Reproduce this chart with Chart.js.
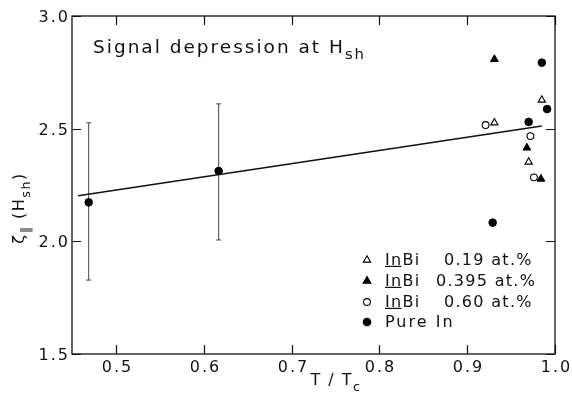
<!DOCTYPE html>
<html>
<head>
<meta charset="utf-8">
<script src="https://cdn.jsdelivr.net/npm/chart.js@4/dist/chart.umd.min.js"></script>
<style>
html,body{margin:0;padding:0;background:#fff;}
#wrap{width:572px;height:396px;position:relative;}
</style>
</head>
<body>
<div id="wrap"><canvas id="c" width="572" height="396"></canvas></div>
<script>
// ---- data ----
const xTicks = [0.5, 0.6, 0.7, 0.8, 0.9, 1.0];
const yTicks = [1.5, 2.0, 2.5, 3.0];

const inBi019X = [0.931, 0.985, 0.970];
const inBi019Y = [2.526, 2.627, 2.352];
const inBi0395X = [0.931, 0.968, 0.984];
const inBi0395Y = [2.808, 2.415, 2.277];
const inBi060X = [0.921, 0.972, 0.976];
const inBi060Y = [2.516, 2.467, 2.284];
const pureInX = [0.469, 0.617, 0.929, 0.970, 0.985, 0.991];
const pureInY = [2.173, 2.312, 2.083, 2.530, 2.793, 2.587];

const errX = [0.469, 0.617];
const errLow = [1.828, 2.006];
const errHigh = [2.526, 2.610];

const fitX = [0.457, 0.985];
const fitY = [2.202, 2.512];

const legendNames = ["InBi", "InBi", "InBi", "Pure In"];
const legendConc = ["0.19 at.%", "0.395 at.%", "0.60 at.%", ""];

const pts = (xs, ys) => xs.map((x, i) => ({x: x, y: ys[i]}));

const FONT = "'DejaVu Sans', sans-serif";

const datasets = [];
datasets.push({type:'line', data: pts(fitX, fitY), borderColor:'#111', borderWidth:1.6, pointRadius:0, fill:false, order:5});
errX.forEach((x, i) => {
  datasets.push({type:'line', data:[{x:x,y:errLow[i]},{x:x,y:errHigh[i]}], borderColor:'#444', borderWidth:1,
    pointStyle:'line', pointRadius:2.5, pointBorderColor:'#444', pointBorderWidth:1, fill:false, order:6});
});
datasets.push({label:'InBi 0.19', data: pts(inBi019X, inBi019Y), pointStyle:'triangle', pointRadius:4.2,
  backgroundColor:'#fff', borderColor:'#000', borderWidth:1.1, order:1});
datasets.push({label:'InBi 0.395', data: pts(inBi0395X, inBi0395Y), pointStyle:'triangle', pointRadius:4.5,
  backgroundColor:'#000', borderColor:'#000', borderWidth:1, order:1});
datasets.push({label:'InBi 0.60', data: pts(inBi060X, inBi060Y), pointStyle:'circle', pointRadius:3.4,
  backgroundColor:'#fff', borderColor:'#000', borderWidth:1.1, order:1});
datasets.push({label:'Pure In', data: pts(pureInX, pureInY), pointStyle:'circle', pointRadius:3.8,
  backgroundColor:'#000', borderColor:'#000', borderWidth:1, order:1});

function drawRich(ctx, parts, x, y, align, size) {
  ctx.font = size + "px " + FONT;
  let total = 0;
  const widths = parts.map(p => {
    ctx.font = (p.sub ? size * 0.8 : size) + "px " + FONT;
    const w = ctx.measureText(p.t).width;
    total += w;
    return w;
  });
  let cx = align === 'center' ? x - total / 2 : (align === 'right' ? x - total : x);
  parts.forEach((p, i) => {
    ctx.font = (p.sub ? size * 0.8 : size) + "px " + FONT;
    ctx.textAlign = 'left';
    ctx.fillText(p.t, cx, p.sub ? y + size * 0.35 : y);
    if (p.underline) {
      const uw = ctx.measureText(p.underline).width;
      ctx.fillRect(cx, y + size * 0.3, uw - 1, 1.2);
    }
    cx += widths[i];
  });
}

const framePlugin = {
  id: 'frame',
  afterDraw(chart) {
    const ctx = chart.ctx;
    const a = chart.chartArea;
    const xs = chart.scales.x, ys = chart.scales.y;
    ctx.save();
    ctx.strokeStyle = '#111';
    ctx.fillStyle = '#111';
    ctx.lineWidth = 1.3;
    ctx.strokeRect(a.left, a.top, a.right - a.left, a.bottom - a.top);
    ctx.lineWidth = 1.2;
    const tl = 9;
    ctx.textBaseline = 'middle';
    ctx.letterSpacing = '2px';
    ctx.font = "16px " + FONT;
    xTicks.forEach(v => {
      const px = Math.round(xs.getPixelForValue(v)) + 0.5;
      ctx.beginPath();
      ctx.moveTo(px, a.bottom); ctx.lineTo(px, a.bottom - tl);
      ctx.moveTo(px, a.top); ctx.lineTo(px, a.top + tl);
      ctx.stroke();
      ctx.textAlign = 'center';
      ctx.fillText(v.toFixed(1), px + 1, a.bottom + 14);
    });
    yTicks.forEach(v => {
      const py = Math.round(ys.getPixelForValue(v)) + 0.5;
      ctx.beginPath();
      ctx.moveTo(a.left, py); ctx.lineTo(a.left + tl, py);
      ctx.moveTo(a.right, py); ctx.lineTo(a.right - tl, py);
      ctx.stroke();
      ctx.textAlign = 'right';
      ctx.fillText(v.toFixed(1), a.left - 2, py + 1);
    });

    // title inside plot
    ctx.textBaseline = 'alphabetic';
    ctx.letterSpacing = '2px';
    drawRich(ctx, [{t:'Signal depression at H'},{t:'sh', sub:true}], 93, 53, 'left', 18.5);

    // axis titles
    ctx.letterSpacing = '1.5px';
    drawRich(ctx, [{t:'T / T'},{t:'c', sub:true}], 336, 385, 'center', 16);
    ctx.save();
    ctx.translate(24, 208);
    ctx.rotate(-Math.PI / 2);
    drawRich(ctx, [{t:'\u03B6'},{t:'\u2225', sub:true},{t:' (H'},{t:'sh', sub:true},{t:')'}], 0, 0, 'center', 16);
    ctx.restore();

    // legend
    const rowY = [260, 281, 302, 322];
    const styles = [
      {s:'triangle', r:4.2, fill:'#fff'},
      {s:'triangle', r:4.5, fill:'#000'},
      {s:'circle', r:3.4, fill:'#fff'},
      {s:'circle', r:3.8, fill:'#000'}
    ];
    ctx.textBaseline = 'middle';
    rowY.forEach((y, i) => {
      const st = styles[i];
      ctx.fillStyle = st.fill;
      ctx.strokeStyle = '#000';
      ctx.lineWidth = 1.1;
      ctx.beginPath();
      const sx = 367;
      if (st.s === 'circle') {
        ctx.arc(sx, y, st.r, 0, Math.PI * 2);
      } else {
        const r = st.r;
        ctx.moveTo(sx, y - r);
        ctx.lineTo(sx + r * 0.866, y + r * 0.5);
        ctx.lineTo(sx - r * 0.866, y + r * 0.5);
        ctx.closePath();
      }
      ctx.fill(); ctx.stroke();
      ctx.fillStyle = '#111';
      ctx.letterSpacing = '1.3px';
      if (i < 3) {
        drawRich(ctx, [{t:legendNames[i], underline:'In'}], 385, y + 1, 'left', 16);
        drawRich(ctx, [{t:legendConc[i]}], i === 1 ? 436 : 444, y + 1, 'left', 16);
      } else {
        ctx.letterSpacing = '2px';
        drawRich(ctx, [{t:legendNames[i]}], 385, y + 1, 'left', 16);
      }
    });
    ctx.restore();
  }
};

new Chart(document.getElementById('c'), {
  type: 'scatter',
  data: { datasets: datasets },
  options: {
    responsive: false,
    animation: false,
    devicePixelRatio: 1,
    layout: { padding: { left: 0, top: 16, right: 17, bottom: 0 } },
    plugins: { legend: { display: false }, tooltip: { enabled: false } },
    scales: {
      x: {
        type: 'linear', min: 0.45, max: 1.0,
        grid: { display: false }, border: { display: false },
        ticks: { display: false },
        afterBuildTicks: s => { s.ticks = xTicks.map(v => ({value: v})); },
        afterFit: s => { s.height = 42; }
      },
      y: {
        type: 'linear', min: 1.5, max: 3.0,
        grid: { display: false }, border: { display: false },
        ticks: { display: false },
        afterBuildTicks: s => { s.ticks = yTicks.map(v => ({value: v})); },
        afterFit: s => { s.width = 72; }
      }
    }
  },
  plugins: [framePlugin]
});
</script>
</body>
</html>
